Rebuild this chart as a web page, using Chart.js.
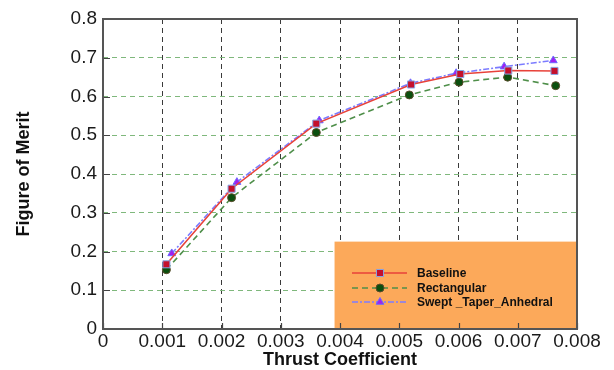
<!DOCTYPE html>
<html>
<head>
<meta charset="utf-8">
<script src="https://cdn.jsdelivr.net/npm/chart.js@4/dist/chart.umd.min.js"></script>
<style>
html,body{margin:0;padding:0;background:#fff;}
#wrap{position:relative;width:614px;height:370px;}
</style>
</head>
<body>
<div id="wrap"><canvas id="c" width="614" height="370"></canvas></div>
<script>
// ---- data ----
const seriesNames = ["Baseline", "Rectangular", "Swept _Taper_Anhedral"];
const baselineX = [0.00107, 0.00217, 0.00360, 0.00520, 0.00603, 0.00684, 0.00762];
const baselineY = [0.167, 0.362, 0.530, 0.631, 0.658, 0.667, 0.666];
const rectX = [0.00107, 0.00217, 0.00360, 0.00517, 0.00601, 0.00683, 0.00764];
const rectY = [0.153, 0.339, 0.507, 0.604, 0.637, 0.650, 0.628];
const sweptX = [0.00116, 0.00226, 0.00365, 0.00519, 0.00596, 0.00677, 0.00760];
const sweptY = [0.195, 0.379, 0.538, 0.634, 0.660, 0.677, 0.693];
const xTickValues = [0, 0.001, 0.002, 0.003, 0.004, 0.005, 0.006, 0.007, 0.008];
const yTickValues = [0, 0.1, 0.2, 0.3, 0.4, 0.5, 0.6, 0.7, 0.8];
const xTitle = "Thrust Coefficient";
const yTitle = "Figure of Merit";

const pts = (xs, ys) => xs.map((x, i) => ({x: x, y: ys[i]}));

const FONT = "'Liberation Sans', Arial, Helvetica, sans-serif";

const framePlugin = {
  id: 'frame',
  beforeDatasetsDraw(chart) {
    const {ctx, chartArea: a, scales} = chart;
    ctx.save();
    // orange legend panel
    const bx = scales.x.getPixelForValue(0.003908);
    const by = scales.y.getPixelForValue(0.2255);
    ctx.fillStyle = '#FCA95A';
    ctx.fillRect(bx, by, a.right - bx, a.bottom - by);
    // inward tick marks
    ctx.strokeStyle = '#444';
    ctx.lineWidth = 1.2;
    ctx.beginPath();
    yTickValues.forEach(v => {
      const py = Math.round(scales.y.getPixelForValue(v)) + 0.5;
      ctx.moveTo(a.left, py); ctx.lineTo(a.left + 7, py);
    });
    xTickValues.forEach(v => {
      const px = Math.round(scales.x.getPixelForValue(v)) + 0.5;
      ctx.moveTo(px, a.bottom); ctx.lineTo(px, a.bottom - 6);
    });
    ctx.stroke();
    // frame
    ctx.strokeStyle = '#555';
    ctx.lineWidth = 2;
    ctx.strokeRect(a.left, a.top, a.right - a.left, a.bottom - a.top);
    ctx.restore();
  },
  afterDatasetsDraw(chart) {
    const {ctx} = chart;
    const x0 = 352, x1 = 407, xm = 380, tx = 417;
    const rows = [273, 288, 302];
    ctx.save();
    chart.data.datasets.forEach((ds, i) => {
      const y = rows[i];
      ctx.strokeStyle = ds.borderColor;
      ctx.lineWidth = ds.borderWidth;
      ctx.setLineDash(ds.borderDash || []);
      ctx.beginPath(); ctx.moveTo(x0, y); ctx.lineTo(x1, y); ctx.stroke();
      ctx.setLineDash([]);
      ctx.save();
      ctx.fillStyle = ds.pointBackgroundColor;
      ctx.strokeStyle = ds.pointBorderColor;
      ctx.lineWidth = ds.pointBorderWidth;
      Chart.helpers.drawPoint(ctx, {
        pointStyle: ds.pointStyle, radius: ds.pointRadius, borderWidth: ds.pointBorderWidth
      }, xm, y);
      ctx.restore();
      ctx.fillStyle = '#111';
      ctx.font = "bold 12px " + FONT;
      ctx.textAlign = 'left';
      ctx.textBaseline = 'middle';
      ctx.fillText(ds.label, tx, y + 0.5);
    });
    ctx.restore();
  }
};

new Chart(document.getElementById('c'), {
  type: 'scatter',
  data: {
    datasets: [
      {
        label: seriesNames[0],
        data: pts(baselineX, baselineY),
        showLine: true,
        borderColor: '#E8423A',
        borderWidth: 1.6,
        pointStyle: 'rect',
        pointRadius: 5,
        pointBackgroundColor: '#C4102C',
        pointBorderColor: '#86A6E6',
        pointBorderWidth: 1
      },
      {
        label: seriesNames[1],
        data: pts(rectX, rectY),
        showLine: true,
        borderColor: '#4F8F4A',
        borderWidth: 1.6,
        borderDash: [6, 4],
        pointStyle: 'circle',
        pointRadius: 4,
        pointBackgroundColor: '#0B4F0E',
        pointBorderColor: '#5A4A2A',
        pointBorderWidth: 1
      },
      {
        label: seriesNames[2],
        data: pts(sweptX, sweptY),
        showLine: true,
        borderColor: '#7C7CFF',
        borderWidth: 1.6,
        borderDash: [6, 2, 2, 2],
        pointStyle: 'triangle',
        pointRadius: 4.5,
        pointBackgroundColor: '#A020F0',
        pointBorderColor: '#6A6AFF',
        pointBorderWidth: 1
      }
    ]
  },
  options: {
    responsive: false,
    animation: false,
    events: [],
    layout: {padding: {left: 0, right: 37, top: 19, bottom: 0}},
    plugins: {legend: {display: false}, tooltip: {enabled: false}},
    scales: {
      x: {
        type: 'linear',
        min: 0, max: 0.008,
        afterBuildTicks(scale) { scale.ticks = xTickValues.map(v => ({value: v})); },
        afterFit(scale) { scale.height = 41; },
        grid: {color: '#3a3a3a', lineWidth: 1, drawTicks: false},
        border: {display: false, dash: [5, 4]},
        ticks: {
          padding: 1,
          color: '#1a1a1a',
          font: {family: FONT, size: 19},
          callback: v => (Math.abs(v) < 1e-12 ? '0' : v.toFixed(3))
        },
        title: {
          display: true, text: xTitle, color: '#111',
          font: {family: FONT, size: 18, weight: 'bold', lineHeight: 1},
          padding: {top: 0, bottom: 1}
        }
      },
      y: {
        type: 'linear',
        min: 0, max: 0.8,
        afterBuildTicks(scale) { scale.ticks = yTickValues.map(v => ({value: v})); },
        afterFit(scale) { scale.width = 103; },
        grid: {color: '#7FB87C', lineWidth: 1, drawTicks: false},
        border: {display: false, dash: [5, 4]},
        ticks: {
          padding: 6,
          color: '#1a1a1a',
          font: {family: FONT, size: 19},
          callback: v => (Math.abs(v) < 1e-12 ? '0' : v.toFixed(1))
        },
        title: {
          display: true, text: yTitle, color: '#111',
          font: {family: FONT, size: 18, weight: 'bold', lineHeight: 1},
          padding: {top: 15, bottom: 0}
        }
      }
    }
  },
  plugins: [framePlugin]
});
</script>
</body>
</html>
